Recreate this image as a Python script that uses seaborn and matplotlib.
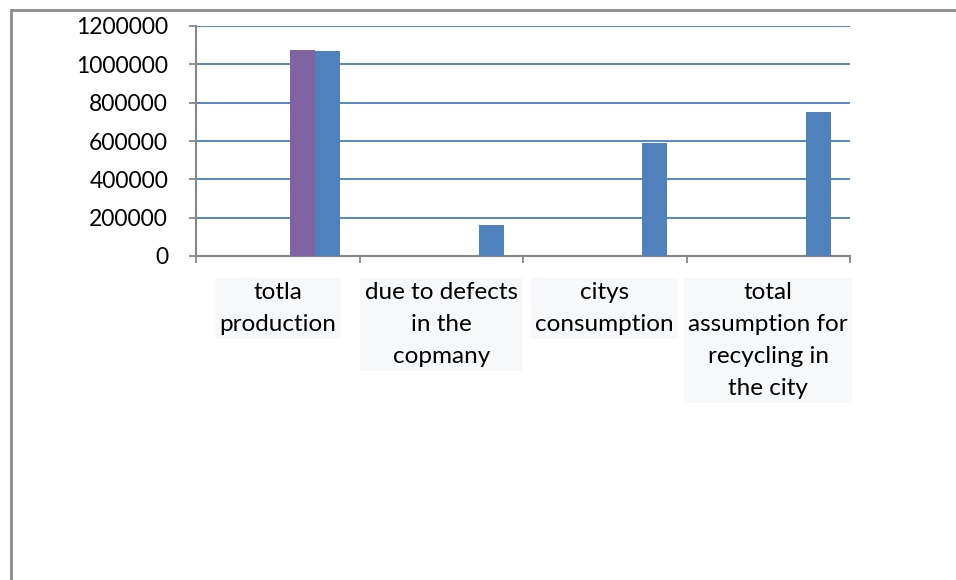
import matplotlib
matplotlib.use("Agg")
import matplotlib.pyplot as plt
from matplotlib.patches import Rectangle
from matplotlib.ticker import FuncFormatter
import seaborn as sns
import pandas as pd

# Category labels (wrapped as shown under the axis)
categories = [
    "totla\nproduction",
    "due to defects\nin the\ncopmany",
    "citys\nconsumption",
    "total\nassumption for\nrecycling in\nthe city",
]
series_names = ["Series1", "Series2", "Series3", "Series4", "Series5"]
series1 = [0, 0, 0, 0]
series2 = [0, 0, 0, 0]
series3 = [0, 0, 0, 0]
series4 = [1075000, 0, 0, 0]
series5 = [1072000, 160000, 590000, 750000]
y_ticks = [0, 200000, 400000, 600000, 800000, 1000000, 1200000]

colors = ["#4F81BD", "#C0504D", "#9BBB59", "#8064A2", "#4F81BD"]

rows = []
for name, vals in zip(series_names, [series1, series2, series3, series4, series5]):
    for cat, v in zip(categories, vals):
        rows.append({"category": cat, "series": name, "value": v})
df = pd.DataFrame(rows)

sns.set_style("white")
plt.rcParams["font.family"] = ["Lato", "DejaVu Sans"]

W, H, DPI = 956, 580, 100
fig = plt.figure(figsize=(W / DPI, H / DPI), dpi=DPI)

# outer chart frame (only top and left edges fall inside the canvas)
fig.patches.append(Rectangle((11 / W, -0.1), 1.2, (H - 10) / H + 0.1,
                             transform=fig.transFigure, fill=False,
                             edgecolor="#8C8C8C", linewidth=2.0, zorder=0))

ax = fig.add_axes([196 / W, (H - 256) / H, (850 - 196) / W, 230 / H])

sns.barplot(data=df, x="category", y="value", hue="series", order=categories,
            hue_order=series_names, palette=colors, saturation=1, width=0.766,
            linewidth=0, legend=False, ax=ax, zorder=3)

ax.set_xlim(-0.5, len(categories) - 0.5)
ax.set_ylim(0, 1200000)
ax.set_yticks(y_ticks)
ax.yaxis.set_major_formatter(FuncFormatter(lambda v, p: f"{v:.0f}"))
ax.set_xticks([i - 0.5 for i in range(len(categories) + 1)])
ax.set_xticklabels([])
ax.set_xlabel("")
ax.set_ylabel("")

ax.grid(axis="y", color="#4A7EBB", linewidth=1.3, zorder=1)
ax.set_axisbelow(True)
for s in ["top", "right"]:
    ax.spines[s].set_visible(False)
for s in ["left", "bottom"]:
    ax.spines[s].set_color("#868686")
    ax.spines[s].set_linewidth(1.5)

ax.tick_params(axis="y", which="major", direction="out", length=5, width=1.3,
               color="#868686", left=True, pad=15, labelsize=16.5, labelcolor="black")
ax.tick_params(axis="x", which="major", direction="out", length=5, width=1.3,
               color="#868686", bottom=True)

for i, lab in enumerate(categories):
    ax.text(i, -26 / 230, lab, transform=ax.get_xaxis_transform(),
            ha="center", va="top", fontsize=17.5, linespacing=1.64, color="black",
            bbox=dict(boxstyle="square,pad=0.18", facecolor="#F7F8FA",
                      edgecolor="none"))

fig.savefig("out.png", dpi=DPI, facecolor="white")
